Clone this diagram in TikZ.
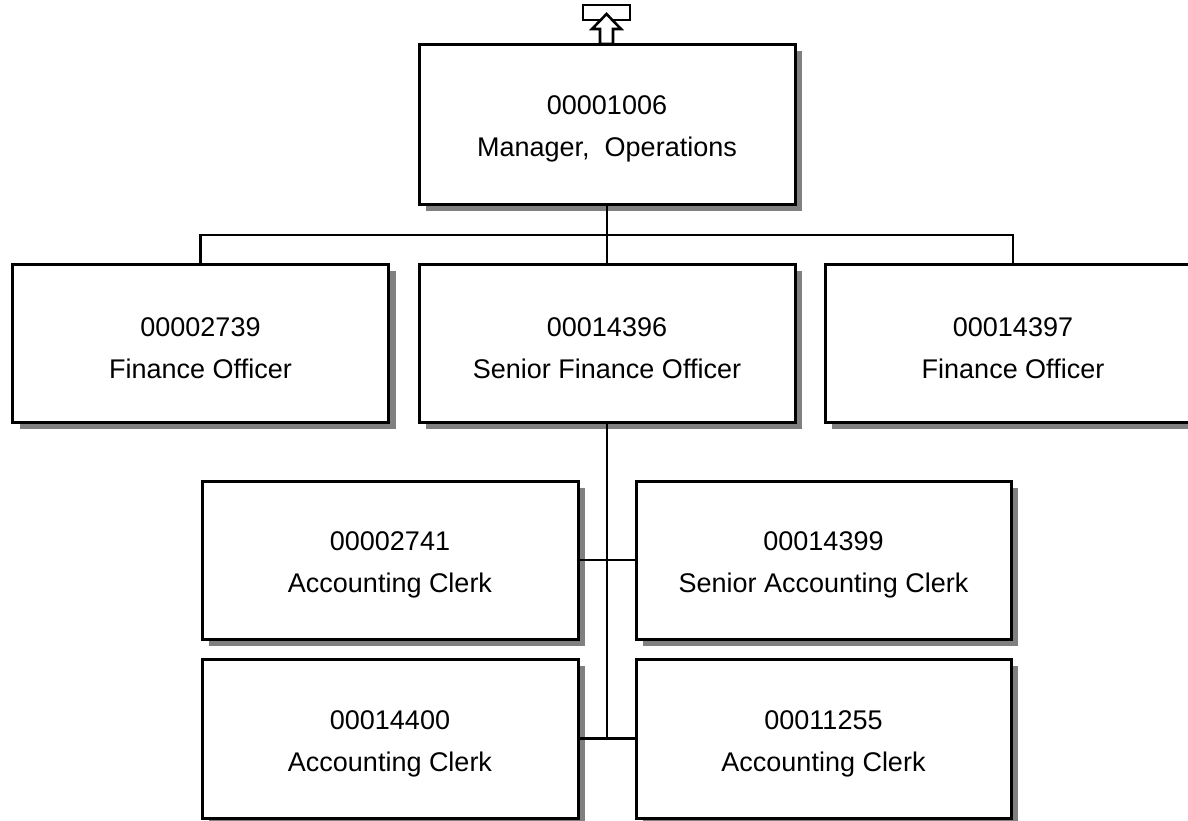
\documentclass[tikz,border=0pt]{standalone}
\usepackage{fontspec}
\setmainfont{Liberation Sans}
\begin{document}
\begin{tikzpicture}[x=1pt,y=-1pt,
  posbox/.style={draw=black, line width=3pt, fill=white, minimum width=376pt, minimum height=158pt, inner sep=0pt},
  boxtext/.style={align=center, inner sep=0pt, font=\fontsize{27}{42}\selectfont},
  conn/.style={draw=black, line width=2.7pt}]
\useasboundingbox (0,0) rectangle (1188,820);
% shadows
\foreach \cx/\cy/\w/\h in {607/124/376/160, 200.5/343/376/158, 607/343/376/158, 1013/343/376/158,
  390/560/376/158, 823.5/560/375/158, 390/738.5/376/159, 823.5/738.5/375/159}{
  \fill[black!50] (\cx-\w/2+7,\cy-\h/2+7) rectangle (\cx+\w/2+7,\cy+\h/2+7);
}
% boxes
\node[posbox, minimum height=160pt] (mgr) at (607,124) {};
\node[posbox] (fo1) at (200.5,343) {};
\node[posbox] (sfo) at (607,343) {};
\node[posbox] (fo2) at (1013,343) {};
\node[posbox] (ac1) at (390,560) {};
\node[posbox, minimum width=375pt] (sac) at (823.5,560) {};
\node[posbox, minimum height=159pt] (ac2) at (390,738.5) {};
\node[posbox, minimum width=375pt, minimum height=159pt] (ac3) at (823.5,738.5) {};
% texts
\node[boxtext] (mgrt) at ([yshift=-5pt]mgr.center) {00001006\\Manager,\ \ Operations};
\node[boxtext] (fo1t) at ([yshift=-5pt]fo1.center) {00002739\\Finance Officer};
\node[boxtext] (sfot) at ([yshift=-5pt]sfo.center) {00014396\\Senior Finance Officer};
\node[boxtext] (fo2t) at ([yshift=-5pt]fo2.center) {00014397\\Finance Officer};
\node[boxtext] (ac1t) at ([yshift=-5pt]ac1.center) {00002741\\Accounting Clerk};
\node[boxtext] (sact) at ([yshift=-5pt]sac.center) {00014399\\Senior Accounting Clerk};
\node[boxtext] (ac2t) at ([yshift=-5pt]ac2.center) {00014400\\Accounting Clerk};
\node[boxtext] (ac3t) at ([yshift=-5pt]ac3.center) {00011255\\Accounting Clerk};
% connectors
\coordinate (bus) at (607,235);
\coordinate (trunkend) at (607,738.5);
\draw[conn] (mgr.south) -- (bus);
\draw[conn] (fo1.north) |- (bus) -| (fo2.north);
\draw[conn] (bus) -- (sfo.north);
\draw[conn] (sfo.south) -- (trunkend);
\draw[conn] (ac1.east) -- (sac.west);
\draw[conn] (ac2.east) -- (ac3.west);
% top icon
\node[draw=black, line width=2.8pt, fill=white, minimum width=47pt, minimum height=15pt, inner sep=0pt] (icon) at (606.5,12.5) {};
\draw[line width=2.6pt, fill=white, line join=miter] (606.5,14) -- (621,29) -- (613,29) -- (613,44) -- (600,44) -- (600,29) -- (592,29) -- cycle;
\end{tikzpicture}
\end{document}
